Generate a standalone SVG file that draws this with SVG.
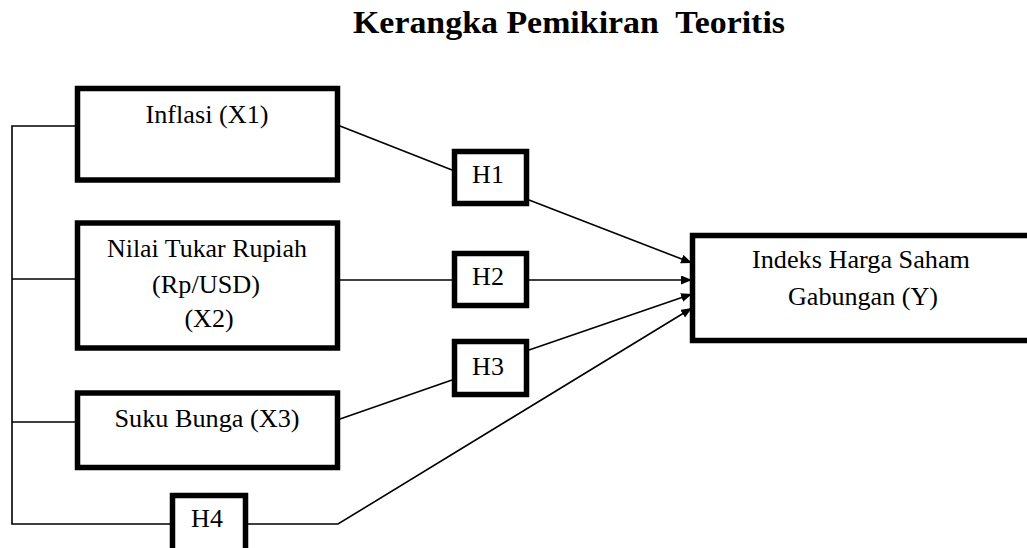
<svg xmlns="http://www.w3.org/2000/svg" width="1027" height="548" viewBox="0 0 1027 548">
<style>
.box{fill:#fff;stroke:#000;stroke-width:5.5}
.ln{fill:none;stroke:#000;stroke-width:1.6}
.t{font-family:"Liberation Serif","Times New Roman",serif;font-size:26px;fill:#000;text-anchor:middle}
.title{font-family:"Liberation Serif","Times New Roman",serif;font-size:31px;font-weight:bold;fill:#000;text-anchor:middle;white-space:pre}
</style>
<defs>
<marker id="arr" markerUnits="userSpaceOnUse" markerWidth="12" markerHeight="10" refX="11" refY="4.5" orient="auto">
<path d="M0,0 L11,4.5 L0,9 z" fill="#000"/>
</marker>
</defs>
<rect width="1027" height="548" fill="#fff"/>
<text class="title" x="569" y="33" textLength="432" lengthAdjust="spacingAndGlyphs" xml:space="preserve">Kerangka Pemikiran  Teoritis</text>
<g id="connectors">
<polyline class="ln" points="77,126 12,126 12,524 172,524"/>
<line class="ln" x1="12" y1="279" x2="77" y2="279"/>
<line class="ln" x1="12" y1="422" x2="77" y2="422"/>
<line class="ln" x1="340" y1="126" x2="452" y2="170"/>
<line class="ln" x1="529" y1="200" x2="692" y2="263" marker-end="url(#arr)"/>
<line class="ln" x1="340" y1="280" x2="452" y2="280"/>
<line class="ln" x1="529" y1="280" x2="692" y2="280" marker-end="url(#arr)"/>
<line class="ln" x1="340" y1="419" x2="452" y2="380"/>
<line class="ln" x1="529" y1="350" x2="692" y2="294" marker-end="url(#arr)"/>
<polyline class="ln" points="248,524 338,524 692,308" marker-end="url(#arr)"/>
</g>
<g id="x1">
<rect class="box" x="77.5" y="88.5" width="260" height="91.5"/>
<text class="t" x="207" y="123" textLength="123" lengthAdjust="spacingAndGlyphs">Inflasi (X1)</text>
</g>
<g id="x2">
<rect class="box" x="77.5" y="223" width="260" height="125"/>
<text class="t" x="207" y="257" textLength="200" lengthAdjust="spacingAndGlyphs">Nilai Tukar Rupiah</text>
<text class="t" x="206" y="293" textLength="108" lengthAdjust="spacingAndGlyphs">(Rp/USD)</text>
<text class="t" x="209" y="327">(X2)</text>
</g>
<g id="x3">
<rect class="box" x="77.5" y="393" width="260" height="74.5"/>
<text class="t" x="207" y="427" textLength="185" lengthAdjust="spacingAndGlyphs">Suku Bunga (X3)</text>
</g>
<g id="h1">
<rect class="box" x="454.5" y="151.5" width="72" height="52"/>
<text class="t" x="488" y="183">H1</text>
</g>
<g id="h2">
<rect class="box" x="454.5" y="253.5" width="72" height="52"/>
<text class="t" x="488" y="285">H2</text>
</g>
<g id="h3">
<rect class="box" x="454.5" y="341.5" width="72" height="53"/>
<text class="t" x="488" y="375">H3</text>
</g>
<g id="h4">
<rect class="box" x="172.5" y="495.5" width="73" height="60"/>
<text class="t" x="207" y="527">H4</text>
</g>
<g id="y">
<rect class="box" x="692.5" y="235.5" width="345" height="105"/>
<text class="t" x="861" y="268" textLength="218" lengthAdjust="spacingAndGlyphs">Indeks Harga Saham</text>
<text class="t" x="863" y="305" textLength="150" lengthAdjust="spacingAndGlyphs">Gabungan (Y)</text>
</g>
</svg>
